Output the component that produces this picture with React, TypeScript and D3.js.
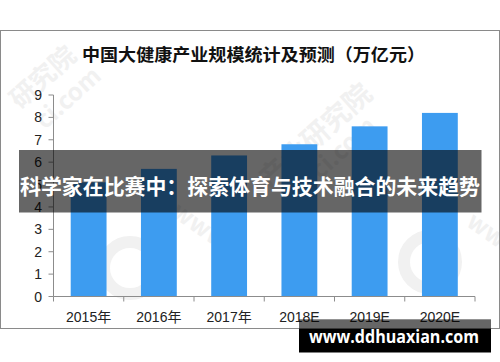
import React from "react";
import * as d3 from "d3";

const categories = ["2015年", "2016年", "2017年", "2018E", "2019E", "2020E"];
const values = [5.1, 5.7, 6.3, 6.8, 7.6, 8.2];
const yTicks = [0, 1, 2, 3, 4, 5, 6, 7, 8, 9];
const chartTitle = "中国大健康产业规模统计及预测（万亿元）";
const overlayTitle = "科学家在比赛中：探索体育与技术融合的未来趋势";
const siteLabel = "www.ddhuaxian.com";

const W = 500;
const H = 362;
const axisLeft = 53.5;
const axisRight = 475;
const yTop = 95;
const yBottom = 296.5;

export default function App() {
  const x = d3
    .scaleBand<string>()
    .domain(categories)
    .range([axisLeft, axisRight])
    .paddingInner(0.49)
    .paddingOuter(0.245);
  const y = d3.scaleLinear().domain([0, 9]).range([yBottom, yTop]);
  const step = x.step();
  const boundaries = d3.range(categories.length + 1).map((i) => axisLeft + i * step);
  const axisColor = "#8c8c8c";
  const labelFont = "'Liberation Sans', 'Noto Sans CJK SC', sans-serif";
  const wm = "#f1f1f1";

  return (
    <svg
      width={W}
      height={H}
      style={{ position: "absolute", left: 0, top: 0, display: "block", background: "#fff" }}
    >
      <rect x={0} y={0} width={W} height={H} fill="#fff" />
      {/* faint watermark */}
      <g fill={wm} fontFamily="'Noto Sans CJK SC', sans-serif" fontWeight="bold">
        <text x={20} y={110} fontSize={26} transform="rotate(-42 20 110)">研究院</text>
        <text x={45} y={130} fontSize={24} transform="rotate(-42 45 130)">ci.com</text>
        <text x={270} y={190} fontSize={28} transform="rotate(-42 270 190)">产业研究院</text>
        <text x={320} y={180} fontSize={24} transform="rotate(-42 320 180)">ci.com</text>
        <text x={170} y={215} fontSize={24} transform="rotate(35 170 215)">www.</text>
        <text x={465} y={225} fontSize={24} transform="rotate(35 465 225)">www.</text>
      </g>
      <circle cx={130} cy={268} r={26} fill="none" stroke={wm} strokeWidth={12} />
      <circle cx={430} cy={262} r={26} fill="none" stroke={wm} strokeWidth={12} />

      {/* outer border */}
      <rect x={0.5} y={30.5} width={499} height={298} fill="none" stroke="#8a8a8a" strokeWidth={1} />

      {/* chart title */}
      <text
        x={253.5}
        y={61}
        textAnchor="middle"
        fontSize={17}
        fontWeight="bold"
        fontFamily="'Noto Sans CJK SC', sans-serif"
        fill="#111"
        textLength={343}
        lengthAdjust="spacingAndGlyphs"
      >
        {chartTitle}
      </text>

      {/* bars */}
      {categories.map((c, i) => (
        <rect
          key={c}
          x={x(c)}
          y={y(values[i])}
          width={x.bandwidth()}
          height={yBottom - y(values[i])}
          fill="#3d9cf0"
        />
      ))}

      {/* y axis */}
      <line x1={axisLeft} x2={axisLeft} y1={yTop} y2={yBottom} stroke={axisColor} />
      {yTicks.map((t) => (
        <g key={t}>
          <line x1={axisLeft - 5} x2={axisLeft} y1={y(t)} y2={y(t)} stroke={axisColor} />
          <text
            x={42}
            y={y(t)}
            dy="0.36em"
            textAnchor="end"
            fontSize={14}
            fontFamily={labelFont}
            fill="#222"
          >
            {t}
          </text>
        </g>
      ))}

      {/* x axis */}
      <line x1={axisLeft} x2={axisRight} y1={yBottom} y2={yBottom} stroke={axisColor} />
      {boundaries.map((b, i) => (
        <line key={i} x1={b} x2={b} y1={yBottom} y2={yBottom + 5} stroke={axisColor} />
      ))}
      {categories.map((c) => (
        <text
          key={c}
          x={(x(c) as number) + x.bandwidth() / 2}
          y={317}
          dy="0.36em"
          textAnchor="middle"
          fontSize={14}
          fontFamily={labelFont}
          fill="#222"
        >
          {c}
        </text>
      ))}

      {/* overlay banner */}
      <rect x={19} y={150} width={462.5} height={62.5} fill="rgba(0,0,0,0.6)" />
      <text
        x={250}
        y={186}
        dy="0.36em"
        textAnchor="middle"
        fontSize={21}
        fontWeight="bold"
        fontFamily="'Noto Sans CJK SC', sans-serif"
        fill="#fff"
        textLength={460}
        lengthAdjust="spacingAndGlyphs"
      >
        {overlayTitle}
      </text>

      {/* bottom-right site label */}
      <rect x={299} y={329} width={192} height={23.5} fill="#000" />
      <rect x={299} y={319.3} width={192} height={9.7} fill="rgba(0,0,0,0.6)" />
      <text
        x={394}
        y={337}
        dy="0.36em"
        textAnchor="middle"
        fontSize={17}
        fontWeight="bold"
        fontFamily="'Open Sans', sans-serif"
        fill="#fff"
        textLength={170}
        lengthAdjust="spacingAndGlyphs"
      >
        {siteLabel}
      </text>
    </svg>
  );
}
